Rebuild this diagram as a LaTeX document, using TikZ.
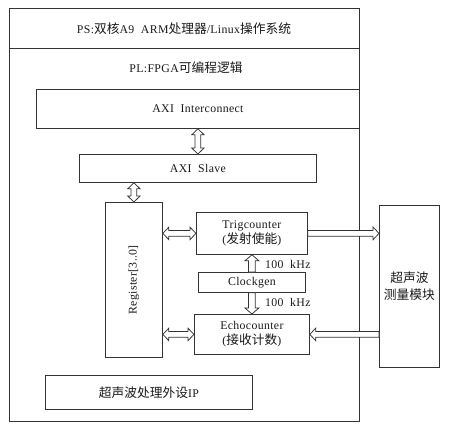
\documentclass[tikz,border=0pt]{standalone}
\usepackage{fontspec}
\setmainfont{Liberation Serif}[LetterSpace=3]
\newfontfamily\cjk{Noto Sans CJK SC}[Scale=1.08]
\usetikzlibrary{calc}
\definecolor{ln}{HTML}{333333}
\definecolor{tx}{HTML}{1a1a1a}
\tikzset{
  box/.style={draw=ln, line width=0.8pt, inner sep=0pt, anchor=north west, fill=white},
  lbl/.style={text=tx, font=\fontsize{11.8}{14}\selectfont, align=center, inner sep=0pt},
  fatarr/.style={draw=ln, line width=0.75pt, fill=white, line join=miter},
}
% double-headed hollow arrow from #1 to #2
\newcommand{\dblarrow}[2]{%
  \draw[fatarr] let \p1=#1, \p2=#2, \n1={atan2(\y2-\y1,\x2-\x1)}, \n2={veclen(\x2-\x1,\y2-\y1)} in
    [shift={(\p1)}, rotate=\n1]
    (0,0) -- (6,6.2) -- (6,2.8) -- ({\n2-6},2.8) -- ({\n2-6},6.2) -- ({\n2},0)
    -- ({\n2-6},-6.2) -- ({\n2-6},-2.8) -- (6,-2.8) -- (6,-6.2) -- cycle;}
% single-headed hollow arrow from #2 to #3, half shaft width #1
\newcommand{\onearrow}[3][2.8]{%
  \draw[fatarr] let \p1=#2, \p2=#3, \n1={atan2(\y2-\y1,\x2-\x1)}, \n2={veclen(\x2-\x1,\y2-\y1)} in
    [shift={(\p1)}, rotate=\n1]
    (0,#1) -- ({\n2-6},#1) -- ({\n2-6},{#1+3.6}) -- ({\n2},0)
    -- ({\n2-6},{-#1-3.6}) -- ({\n2-6},-#1) -- (0,-#1) -- cycle;}
\begin{document}
\begin{tikzpicture}[x=1pt, y=-1pt]
\useasboundingbox (0,0) rectangle (451,431);
\fill[white] (0,0) rectangle (451,431);

% PS / PL
\node[box, minimum width=350pt, minimum height=40pt] (ps) at (9,8) {};
\node[lbl] (pstext) at (184,29) {PS:{\cjk 双核}A9\ \ ARM{\cjk 处理器}/Linux{\cjk 操作系统}};
\node[box, minimum width=350pt, minimum height=373pt] (pl) at (9,48) {};
\node[lbl] (pltext) at (186,68) {PL:FPGA{\cjk 可编程逻辑}};

% blocks
\node[box, minimum width=323pt, minimum height=39pt] (axi) at (36,89) {};
\node[lbl] at (axi.center) {AXI\ \ Interconnect};

\node[box, minimum width=237pt, minimum height=28pt] (slave) at (79,154) {};
\node[lbl] at (slave.center) {AXI\ \ Slave};

\node[box, minimum width=57pt, minimum height=155pt] (reg) at (105,202) {};
\node[lbl, rotate=90] at (reg.center) {Register[3..0]};

\node[box, minimum width=111pt, minimum height=42pt] (trig) at (196,212) {};
\node[lbl] at (trig.center) {Trigcounter\\[1pt]({\cjk 发射使能})};

\node[box, minimum width=107pt, minimum height=20pt] (clk) at (198,272) {};
\node[lbl] at (clk.center) {Clockgen};

\node[box, minimum width=115pt, minimum height=40pt] (echo) at (194,314) {};
\node[lbl] at (echo.center) {Echocounter\\[1pt]({\cjk 接收计数})};

\node[box, minimum width=60pt, minimum height=162pt] (mod) at (379,205) {};
\node[lbl] at (mod.center) {{\cjk 超声波}\\[3pt]{\cjk 测量模块}};

\node[box, minimum width=207pt, minimum height=34pt] (ip) at (45,375) {};
\node[lbl] at (ip.center) {{\cjk 超声波处理外设}IP};

% arrows
\coordinate (a1) at (axi.south -| slave.north);
\dblarrow{(a1)}{(slave.north)}
\coordinate (a2) at (slave.south -| reg.north);
\dblarrow{(a2)}{(reg.north)}
\coordinate (a3) at (reg.east |- trig.west);
\dblarrow{(a3)}{(trig.west)}
\coordinate (a4) at (reg.east |- echo.west);
\dblarrow{(a4)}{(echo.west)}
\coordinate (a5) at (mod.west |- trig.east);
\onearrow{(trig.east)}{(a5)}
\coordinate (a6) at (mod.west |- echo.east);
\onearrow{(a6)}{(echo.east)}
\coordinate (a7) at (trig.south -| clk.north);
\onearrow[3.4]{(clk.north)}{(a7)}
\coordinate (a8) at (echo.north -| clk.south);
\onearrow[3.4]{(clk.south)}{(a8)}

\node[lbl, anchor=west] (f1) at (265,264) {100\ \ kHz};
\node[lbl, anchor=west] (f2) at (265,302) {100\ \ kHz};
\end{tikzpicture}
\end{document}
